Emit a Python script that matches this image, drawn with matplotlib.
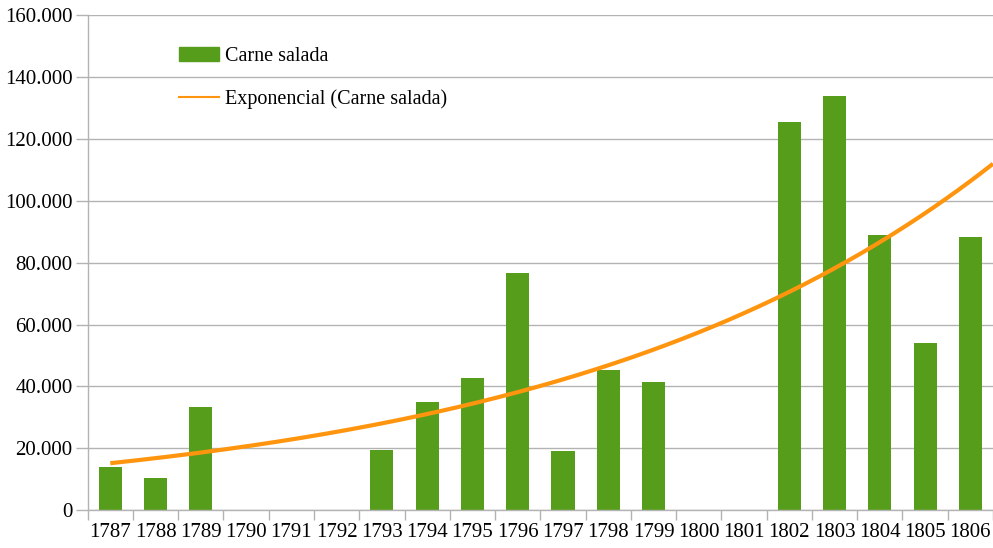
import numpy as np
from matplotlib import pyplot as plt
from matplotlib.lines import Line2D
from matplotlib.patches import Patch
from matplotlib.ticker import FuncFormatter, MultipleLocator

years = [str(y) for y in range(1787, 1807)]
carne_salada = [14000, 10300, 33300, 0, 0, 0, 19400, 34900, 42700, 76600,
                19100, 45200, 41400, 0, 0, 125400, 133800, 88900, 54000, 88200]

green = '#579d1c'
orange = '#ff950e'
grid = '#b3b3b3'

plt.rcParams['font.family'] = ['Liberation Serif', 'DejaVu Serif']
plt.rcParams['font.size'] = 15

fig = plt.figure(figsize=(9.93, 5.48), dpi=100)
ax = fig.add_axes([0.0883, 0.0693, 0.9117, 0.9027])

x = np.arange(len(years))
values = np.array(carne_salada, dtype=float)
ax.bar(x, values, width=0.51, color=green, zorder=2)

# exponential trend fitted on the non-zero years
mask = values > 0
slope, intercept = np.polyfit(x[mask], np.log(values[mask]), 1)
xt = np.linspace(0, len(years) - 0.5, 300)
ax.plot(xt, np.exp(intercept + slope * xt), color=orange, lw=3, zorder=3,
        solid_capstyle='butt')

ax.set_xlim(-0.5, len(years) - 0.5)
ax.set_ylim(0, 160000)
ax.yaxis.set_major_locator(MultipleLocator(20000))
ax.yaxis.set_major_formatter(FuncFormatter(lambda v, p: f'{int(v):,}'.replace(',', '.')))
ax.set_xticks(x)
ax.set_xticklabels(years)
ax.set_xticks(np.arange(-0.5, len(years)), minor=True)
ax.tick_params(axis='x', which='major', length=0, pad=9)
ax.tick_params(axis='x', which='minor', length=7, color=grid, width=1)
ax.tick_params(axis='y', length=9, color=grid, width=1, pad=2)
ax.grid(axis='y', color=grid, lw=1, zorder=0)

for side in ['top', 'right']:
    ax.spines[side].set_visible(False)
for side in ['left', 'bottom']:
    ax.spines[side].set_color(grid)
    ax.spines[side].set_linewidth(1)

handles = [Patch(color=green), Line2D([], [], color=orange, lw=1.5)]
ax.legend(handles, ['Carne salada', 'Exponencial (Carne salada)'],
          loc='upper left', bbox_to_anchor=(0.092, 0.952), frameon=False,
          handlelength=2.0, handleheight=0.67, handletextpad=0.28,
          labelspacing=1.15, fontsize=14.5, borderaxespad=0)

fig.savefig('out.png', dpi=100)
